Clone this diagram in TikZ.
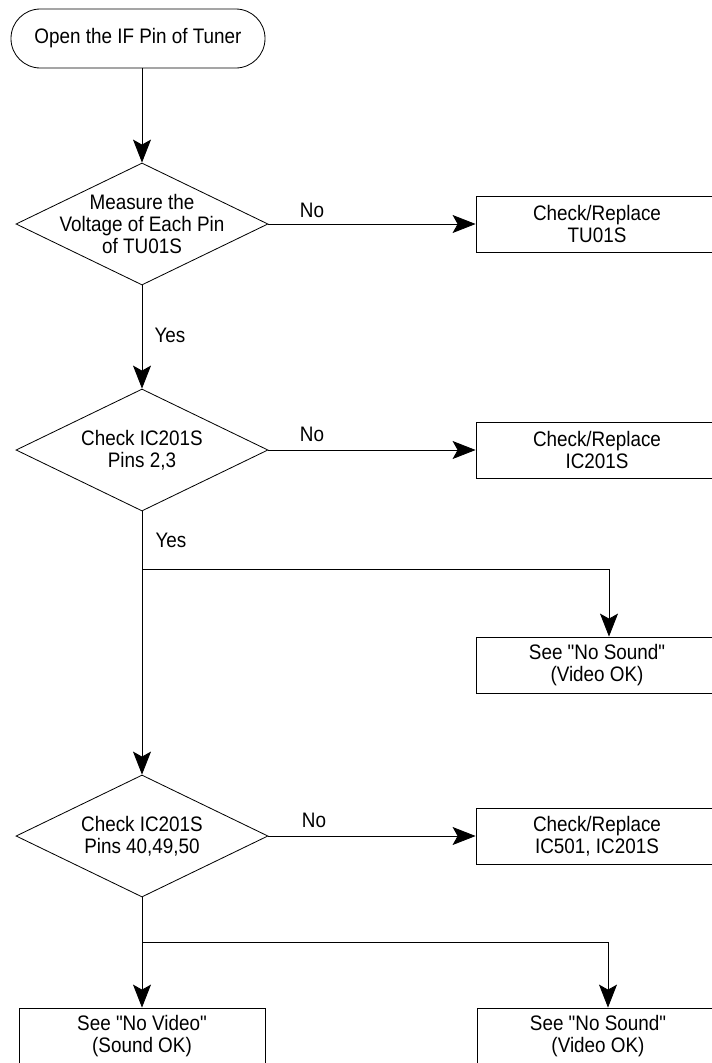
\documentclass[tikz,border=0pt]{standalone}
\usepackage{fontspec}
\setmainfont{Liberation Sans}[FakeStretch=0.9, Ligatures=TeXOff]
\usetikzlibrary{shapes.geometric,arrows.meta}

\begin{document}
\begin{tikzpicture}[font=\fontsize{17.9pt}{18.5pt}\selectfont, line width=0.7pt,
  >={Stealth[length=0.69cm, width=0.54cm, inset=0.15cm]},
  procbox/.style={draw, align=center, minimum width=7.26cm, minimum height=1.68cm, inner sep=0pt},
  decision/.style={draw, shape=diamond, minimum width=7.56cm, minimum height=3.66cm, inner sep=0pt}]
  \useasboundingbox (0cm,0cm) rectangle (21.36cm,-31.89cm);
  \node[draw, rounded corners=0.88cm, minimum width=7.62cm, minimum height=1.77cm] (start) at (4.14cm,-1.155cm) {Open the IF Pin of Tuner};
  \node[decision, label={[align=center]center:Measure the\\Voltage of Each Pin\\of TU01S}] (tu) at (4.26cm,-6.72cm) {};
  \node[procbox] (tufix) at (17.91cm,-6.72cm) {Check/Replace\\TU01S};
  \node[decision, label={[align=center]center:Check IC201S\\Pins 2,3}] (pinsa) at (4.26cm,-13.5cm) {};
  \node[procbox] (icfix) at (17.91cm,-13.5cm) {Check/Replace\\IC201S};
  \node[procbox] (snda) at (17.91cm,-19.95cm) {See "No Sound"\\(Video OK)};
  \node[decision, label={[align=center]center:Check IC201S\\Pins 40,49,50}] (pinsb) at (4.26cm,-25.08cm) {};
  \node[procbox] (icsfix) at (17.91cm,-25.08cm) {Check/Replace\\IC501, IC201S};
  \node[procbox, minimum width=7.38cm] (vid) at (4.26cm,-31.08cm) {See "No Video"\\(Sound OK)};
  \node[procbox] (sndb) at (17.94cm,-31.08cm) {See "No Sound"\\(Video OK)};
  \node (noa) at (9.36cm,-6.3cm) {No};
  \node (nob) at (9.36cm,-13.02cm) {No};
  \node (noc) at (9.42cm,-24.6cm) {No};
  \node (yesa) at (5.1cm,-10.05cm) {Yes};
  \node (yesb) at (5.13cm,-16.2cm) {Yes};
  \coordinate (ja) at (4.26cm,-17.07cm);
  \coordinate (ka) at (18.27cm,-17.07cm);
  \coordinate (jb) at (4.26cm,-28.26cm);
  \coordinate (kb) at (18.24cm,-28.26cm);
  \draw[->] (start.south -| tu.north) -- (tu.north);
  \draw[->] (tu) -- (tufix);
  \draw[->] (tu) -- (pinsa);
  \draw[->] (pinsa) -- (icfix);
  \draw[->] (pinsa) -- (pinsb);
  \draw[->] (ja) -- (ka) -- (ka |- snda.north);
  \draw[->] (pinsb) -- (icsfix);
  \draw[->] (pinsb) -- (vid);
  \draw[->] (jb) -- (kb) -- (kb |- sndb.north);
\end{tikzpicture}
\end{document}
